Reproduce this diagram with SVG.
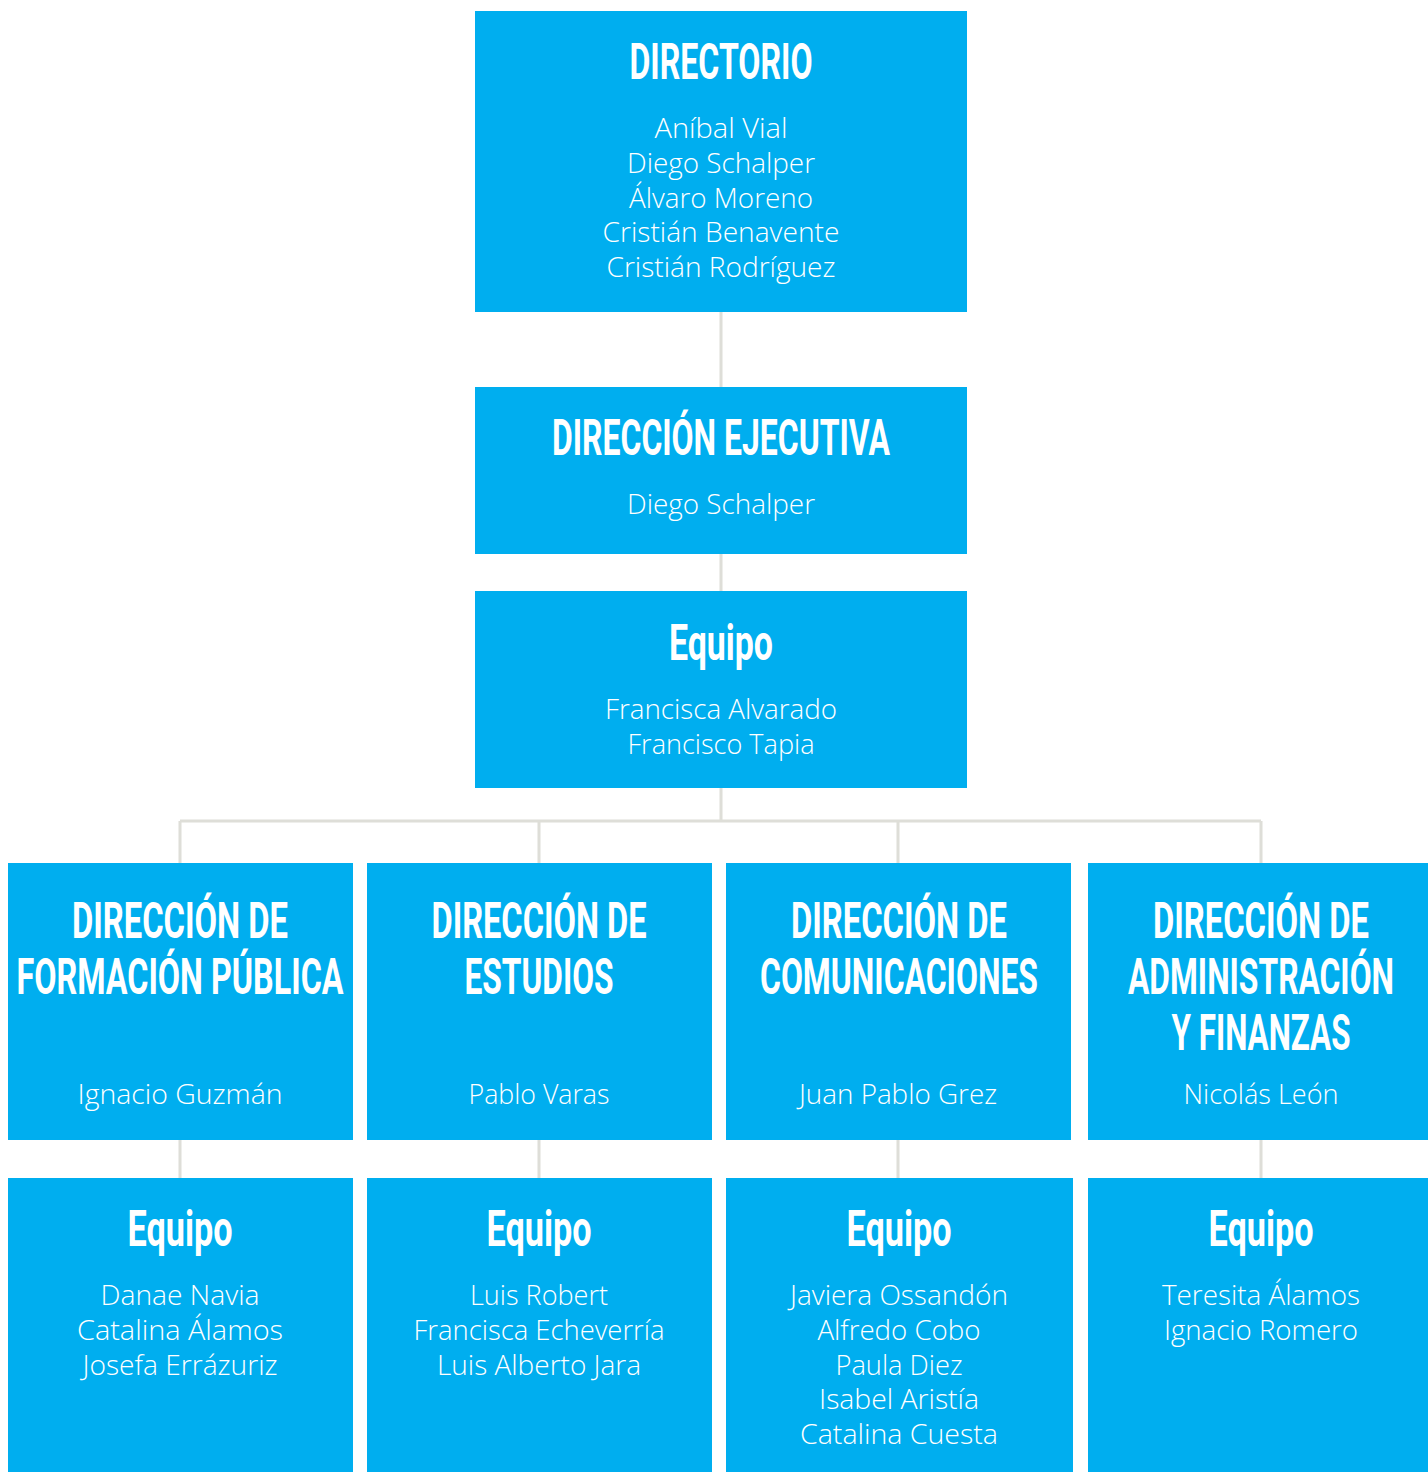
<svg xmlns="http://www.w3.org/2000/svg" width="1428" height="1472" viewBox="0 0 1428 1472">
<style>
.box{fill:#00AEEF}
.t{font-family:Roboto,"Liberation Sans",sans-serif;font-weight:700;fill:#fff;text-anchor:middle;font-size:30px}
.n{font-family:"Open Sans","Noto Sans",sans-serif;font-weight:300;fill:#fff;text-anchor:middle;font-size:27px}
.c{stroke:#DEDED8;stroke-width:3;fill:none}
</style>
<rect width="1428" height="1472" fill="#fff"/>
<g id="connectors">
<path class="c" d="M721 312V387M721 554V591M721 788V821M180 821H1261M180 821V863M539 821V863M898 821V863M1261 821V863M180 1140V1178M539 1140V1178M898 1140V1178M1261 1140V1178"/>
</g>
<g id="directorio">
<rect class="box" x="475" y="11" width="492" height="301"/>
<text class="t" transform="translate(721 79) scale(1 1.667)" textLength="183" lengthAdjust="spacingAndGlyphs">DIRECTORIO</text>
<text class="n" x="721" y="138" textLength="133" lengthAdjust="spacingAndGlyphs">Aníbal Vial</text>
<text class="n" x="721" y="173" textLength="188" lengthAdjust="spacingAndGlyphs">Diego Schalper</text>
<text class="n" x="721" y="208" textLength="184" lengthAdjust="spacingAndGlyphs">Álvaro Moreno</text>
<text class="n" x="721" y="242" textLength="237" lengthAdjust="spacingAndGlyphs">Cristián Benavente</text>
<text class="n" x="721" y="277" textLength="229" lengthAdjust="spacingAndGlyphs">Cristián Rodríguez</text>
</g>
<g id="direccion-ejecutiva">
<rect class="box" x="475" y="387" width="492" height="167"/>
<text class="t" transform="translate(721 455) scale(1 1.667)" textLength="338" lengthAdjust="spacingAndGlyphs">DIRECCIÓN EJECUTIVA</text>
<text class="n" x="721" y="514" textLength="188" lengthAdjust="spacingAndGlyphs">Diego Schalper</text>
</g>
<g id="equipo-ejecutivo">
<rect class="box" x="475" y="591" width="492" height="197"/>
<text class="t" transform="translate(721 660) scale(1 1.667)" textLength="104" lengthAdjust="spacingAndGlyphs">Equipo</text>
<text class="n" x="721" y="719" textLength="232" lengthAdjust="spacingAndGlyphs">Francisca Alvarado</text>
<text class="n" x="721" y="754" textLength="187" lengthAdjust="spacingAndGlyphs">Francisco Tapia</text>
</g>
<g id="formacion-publica">
<rect class="box" x="8" y="863" width="345" height="277"/>
<text class="t" transform="translate(180 938) scale(1 1.667)" textLength="216" lengthAdjust="spacingAndGlyphs">DIRECCIÓN DE</text>
<text class="t" transform="translate(180 994) scale(1 1.667)" textLength="327" lengthAdjust="spacingAndGlyphs">FORMACIÓN PÚBLICA</text>
<text class="n" x="180" y="1104" textLength="205" lengthAdjust="spacingAndGlyphs">Ignacio Guzmán</text>
</g>
<g id="estudios">
<rect class="box" x="367" y="863" width="345" height="277"/>
<text class="t" transform="translate(539 938) scale(1 1.667)" textLength="215" lengthAdjust="spacingAndGlyphs">DIRECCIÓN DE</text>
<text class="t" transform="translate(539 994) scale(1 1.667)" textLength="149" lengthAdjust="spacingAndGlyphs">ESTUDIOS</text>
<text class="n" x="539" y="1104" textLength="141" lengthAdjust="spacingAndGlyphs">Pablo Varas</text>
</g>
<g id="comunicaciones">
<rect class="box" x="726" y="863" width="345" height="277"/>
<text class="t" transform="translate(899 938) scale(1 1.667)" textLength="216" lengthAdjust="spacingAndGlyphs">DIRECCIÓN DE</text>
<text class="t" transform="translate(899 994) scale(1 1.667)" textLength="278" lengthAdjust="spacingAndGlyphs">COMUNICACIONES</text>
<text class="n" x="898" y="1104" textLength="198" lengthAdjust="spacingAndGlyphs">Juan Pablo Grez</text>
</g>
<g id="administracion">
<rect class="box" x="1088" y="863" width="340" height="277"/>
<text class="t" transform="translate(1261 938) scale(1 1.667)" textLength="216" lengthAdjust="spacingAndGlyphs">DIRECCIÓN DE</text>
<text class="t" transform="translate(1261 994) scale(1 1.667)" textLength="266" lengthAdjust="spacingAndGlyphs">ADMINISTRACIÓN</text>
<text class="t" transform="translate(1261 1050) scale(1 1.667)" textLength="179" lengthAdjust="spacingAndGlyphs">Y FINANZAS</text>
<text class="n" x="1261" y="1104" textLength="155" lengthAdjust="spacingAndGlyphs">Nicolás León</text>
</g>
<g id="equipo-formacion">
<rect class="box" x="8" y="1178" width="345" height="294"/>
<text class="t" transform="translate(180 1246) scale(1 1.667)" textLength="105" lengthAdjust="spacingAndGlyphs">Equipo</text>
<text class="n" x="180" y="1305" textLength="159" lengthAdjust="spacingAndGlyphs">Danae Navia</text>
<text class="n" x="180" y="1340" textLength="206" lengthAdjust="spacingAndGlyphs">Catalina Álamos</text>
<text class="n" x="180" y="1375" textLength="195" lengthAdjust="spacingAndGlyphs">Josefa Errázuriz</text>
</g>
<g id="equipo-estudios">
<rect class="box" x="367" y="1178" width="345" height="294"/>
<text class="t" transform="translate(539 1246) scale(1 1.667)" textLength="105" lengthAdjust="spacingAndGlyphs">Equipo</text>
<text class="n" x="539" y="1305" textLength="138" lengthAdjust="spacingAndGlyphs">Luis Robert</text>
<text class="n" x="539" y="1340" textLength="251" lengthAdjust="spacingAndGlyphs">Francisca Echeverría</text>
<text class="n" x="539" y="1375" textLength="204" lengthAdjust="spacingAndGlyphs">Luis Alberto Jara</text>
</g>
<g id="equipo-comunicaciones">
<rect class="box" x="726" y="1178" width="347" height="294"/>
<text class="t" transform="translate(899 1246) scale(1 1.667)" textLength="105" lengthAdjust="spacingAndGlyphs">Equipo</text>
<text class="n" x="899" y="1305" textLength="218" lengthAdjust="spacingAndGlyphs">Javiera Ossandón</text>
<text class="n" x="899" y="1340" textLength="163" lengthAdjust="spacingAndGlyphs">Alfredo Cobo</text>
<text class="n" x="899" y="1375" textLength="127" lengthAdjust="spacingAndGlyphs">Paula Diez</text>
<text class="n" x="899" y="1409" textLength="160" lengthAdjust="spacingAndGlyphs">Isabel Aristía</text>
<text class="n" x="899" y="1444" textLength="198" lengthAdjust="spacingAndGlyphs">Catalina Cuesta</text>
</g>
<g id="equipo-administracion">
<rect class="box" x="1088" y="1178" width="340" height="294"/>
<text class="t" transform="translate(1261 1246) scale(1 1.667)" textLength="105" lengthAdjust="spacingAndGlyphs">Equipo</text>
<text class="n" x="1261" y="1305" textLength="198" lengthAdjust="spacingAndGlyphs">Teresita Álamos</text>
<text class="n" x="1261" y="1340" textLength="194" lengthAdjust="spacingAndGlyphs">Ignacio Romero</text>
</g>
</svg>
